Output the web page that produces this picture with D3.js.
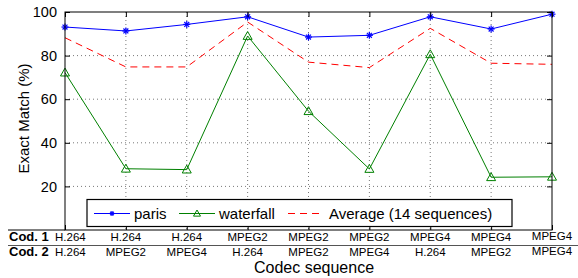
<!DOCTYPE html>
<html><head><meta charset="utf-8">
<script src="https://cdn.jsdelivr.net/npm/d3@7"></script>
<style>body{margin:0;background:#fff}svg{display:block;font-family:"Liberation Sans",Arial,sans-serif}</style>
</head><body><svg id="c" width="578" height="278"></svg>
<script>
const codec1 = ["H.264","H.264","H.264","MPEG2","MPEG2","MPEG2","MPEG4","MPEG4","MPEG4"];
const codec2 = ["H.264","MPEG2","MPEG4","H.264","MPEG2","MPEG4","H.264","MPEG2","MPEG4"];
const paris = [93.1, 91.3, 94.3, 97.8, 88.5, 89.3, 97.8, 92.2, 99.0];
const waterfall = [72.2, 28.1, 27.7, 89.0, 54.5, 28.0, 80.6, 24.2, 24.4];
const average = [88.2, 74.8, 74.8, 95.4, 77.0, 74.5, 92.5, 76.5, 76.0];
const yTicks = [20, 40, 60, 80, 100];
const seriesNames = ["paris", "waterfall", "Average (14 sequences)"];

const svg = d3.select("#c");
const L = 65, R = 552, T = 12, B = 230;
const x = d3.scalePoint().domain(d3.range(codec1.length)).range([L, R]);
const y = d3.scaleLinear().domain([0, 100]).range([B, T]);

// grid
const g = svg.append("g");
g.selectAll(".gy").data(yTicks.filter(d => d < 100)).join("line")
  .attr("x1", L).attr("x2", R).attr("y1", d => y(d)).attr("y2", d => y(d))
  .attr("stroke", "#555").attr("stroke-width", 0.8).attr("stroke-dasharray", "1,3");
g.selectAll(".gx").data(d3.range(1, codec1.length - 1)).join("line")
  .attr("x1", d => x(d)).attr("x2", d => x(d)).attr("y1", T).attr("y2", B)
  .attr("stroke", "#555").attr("stroke-width", 0.8).attr("stroke-dasharray", "1,3");

// lines
const line = d3.line().x((d, i) => x(i)).y(d => y(d));
svg.append("path").datum(average).attr("d", line).attr("fill", "none")
  .attr("stroke", "#ff0000").attr("stroke-width", 1).attr("stroke-dasharray", "7,5");
svg.append("path").datum(waterfall).attr("d", line).attr("fill", "none")
  .attr("stroke", "#008000").attr("stroke-width", 1);
svg.append("path").datum(paris).attr("d", line).attr("fill", "none")
  .attr("stroke", "#0000ff").attr("stroke-width", 1);

function star(sel, cx, cy, r) {
  r = r || 3.5;
  const gg = sel.append("g").attr("stroke", "#0000ff").attr("stroke-width", 1.2);
  [[0, 1], [1, 0], [0.7, 0.7], [0.7, -0.7]].forEach(([a, b]) => {
    gg.append("line").attr("x1", cx - a * r).attr("x2", cx + a * r)
      .attr("y1", cy - b * r).attr("y2", cy + b * r);
  });
}
function tri(sel, cx, cy, s) {
  s = s || 4.5;
  sel.append("path").attr("d", `M${cx},${cy - s}L${cx + s},${cy + s * 0.75}L${cx - s},${cy + s * 0.75}Z`)
    .attr("fill", "none").attr("stroke", "#008000").attr("stroke-width", 1);
}
waterfall.forEach((v, i) => tri(svg, x(i), y(v)));
paris.forEach((v, i) => star(svg, x(i), y(v)));

// axes box
svg.append("rect").attr("x", L).attr("y", T).attr("width", R - L).attr("height", B - T)
  .attr("fill", "none").attr("stroke", "#000").attr("stroke-width", 1);
const yAxisL = d3.axisLeft(y).tickValues(yTicks).tickSize(-5).tickPadding(8).tickSizeOuter(0);
const ga = svg.append("g").attr("transform", `translate(${L},0)`).call(yAxisL);
ga.select(".domain").remove();
ga.selectAll("text").attr("font-size", 14.5).attr("fill", "#000").attr("font-family", "Liberation Sans, Arial, sans-serif");
const gr = svg.append("g").attr("transform", `translate(${R},0)`).call(d3.axisRight(y).tickValues(yTicks).tickSize(-5).tickFormat(""));
gr.select(".domain").remove();
// x ticks top & bottom
const gxT = svg.append("g").attr("transform", `translate(0,${T})`).call(d3.axisTop(x).tickSize(-5).tickFormat(""));
gxT.select(".domain").remove();
const gxB = svg.append("g").attr("transform", `translate(0,${B})`).call(d3.axisBottom(x).tickSize(-5).tickFormat(""));
gxB.select(".domain").remove();

// y label
svg.append("text").attr("transform", `translate(29,118.5) rotate(-90)`)
  .attr("text-anchor", "middle").attr("font-size", 15).text("Exact Match (%)");

// codec labels
function rowLabels(arr, yy) {
  arr.forEach((t, i) => {
    const last = i === arr.length - 1;
    const tx = svg.append("text").attr("x", x(i)).attr("y", yy - (last ? 1.5 : 0)).attr("text-anchor", "middle")
      .attr("font-size", 11.5).text(t);
    const bb = tx.node().getBBox();
    if (bb.x < 55) tx.attr("x", x(i) + (55 - bb.x));
    if (bb.x + bb.width > 577) tx.attr("x", x(i) - (bb.x + bb.width - 577));
  });
}
rowLabels(codec1, 241);
rowLabels(codec2, 256);
svg.append("text").attr("x", 9).attr("y", 241).attr("font-size", 13).attr("font-weight", "bold").text("Cod. 1");
svg.append("text").attr("x", 9).attr("y", 256).attr("font-size", 13).attr("font-weight", "bold").text("Cod. 2");
svg.append("line").attr("x1", 8).attr("x2", 578).attr("y1", 245.5).attr("y2", 245.5)
  .attr("stroke", "#555").attr("stroke-width", 1.2);
svg.append("line").attr("x1", 8).attr("x2", L).attr("y1", B).attr("y2", B)
  .attr("stroke", "#000").attr("stroke-width", 1);
svg.append("text").attr("x", 314).attr("y", 273).attr("text-anchor", "middle").attr("font-size", 16).text("Codec sequence");

// legend
const lg = svg.append("g");
lg.append("rect").attr("x", 87).attr("y", 199.5).attr("width", 425).attr("height", 27)
  .attr("fill", "#fff").attr("stroke", "#000").attr("stroke-width", 1.2);
const ly = 213.5;
const items = [
  { x0: 94, x1: 130, tx: 134, color: "#0000ff", dash: null, mk: (s, cx, cy) => star(s, cx, cy, 2.5) },
  { x0: 179, x1: 215, tx: 219, color: "#008000", dash: null, mk: (s, cx, cy) => tri(s, cx, cy, 3.5) },
  { x0: 288, x1: 322, tx: 329, color: "#ff0000", dash: "7,5", mk: null }
];
items.forEach((it, i) => {
  lg.append("line").attr("x1", it.x0).attr("x2", it.x1).attr("y1", ly).attr("y2", ly)
    .attr("stroke", it.color).attr("stroke-width", 1).attr("stroke-dasharray", it.dash);
  if (it.mk) it.mk(lg, (it.x0 + it.x1) / 2, ly);
  lg.append("text").attr("x", it.tx).attr("y", ly + 5.5).attr("font-size", 15).text(seriesNames[i]);
});
</script></body></html>
